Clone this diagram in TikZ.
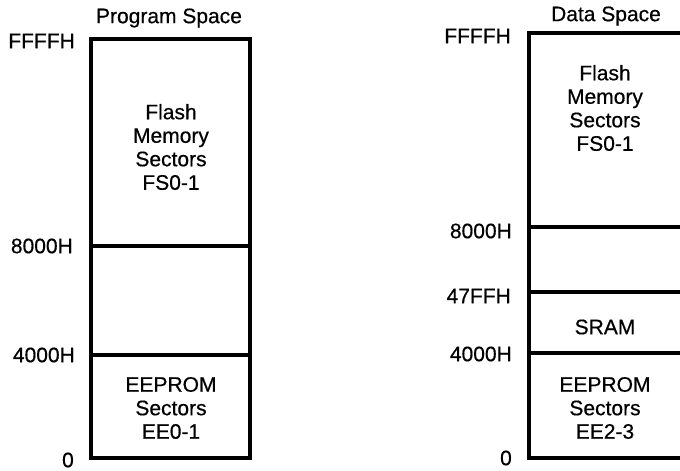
\documentclass[tikz,border=0pt]{standalone}
\usepackage{fontspec}
\setmainfont{Liberation Sans}[UprightFeatures={FakeBold=0.5}]
\newcommand{\lblfont}{\fontsize{21}{23.5}\selectfont}
\begin{document}
\begin{tikzpicture}[x=1pt,y=-1pt,
  wall/.style={line width=3.2pt,line cap=rect},
  addr/.style={anchor=east,inner sep=0pt,font=\lblfont},
  txt/.style={align=center,inner sep=0pt,font=\lblfont},
  ttl/.style={inner sep=0pt,font=\lblfont}]
\useasboundingbox (0,0) rectangle (680,471);
% left memory map
\coordinate (LTL) at (91,39);
\coordinate (LTR) at (250,39);
\coordinate (LBL) at (91,458);
\coordinate (LBR) at (250,458);
\draw[wall] (LTL) -- (LTR) -- (LBR) -- (LBL) -- cycle;
\coordinate (L8a) at (91,246); \coordinate (L8b) at (250,246);
\coordinate (L4a) at (91,355); \coordinate (L4b) at (250,355);
\draw[wall] (L8a) -- (L8b);
\draw[wall] (L4a) -- (L4b);
\node[ttl] (ps) at (169,18) {Program Space};
\node[addr] (lF) at (75,41) {FFFFH};
\node[addr] (l8) at (73,246) {8000H};
\node[addr] (l4) at (75,355) {4000H};
\node[addr] (l0) at (74,460) {0};
\node[txt] (lflash) at (171,147) {Flash\\Memory\\Sectors\\FS0-1};
\node[txt] (leep) at (171,408) {EEPROM\\Sectors\\EE0-1};
% right memory map
\coordinate (RTL) at (529,33);
\coordinate (RTR) at (682,33);
\coordinate (RBL) at (529,458);
\coordinate (RBR) at (682,458);
\draw[wall] (RTR) -- (RTL) -- (RBL) -- (RBR);
\coordinate (R8a) at (529,227); \coordinate (R8b) at (682,227);
\coordinate (R47a) at (529,292); \coordinate (R47b) at (682,292);
\coordinate (R4a) at (529,353); \coordinate (R4b) at (682,353);
\draw[wall] (R8a) -- (R8b);
\draw[wall] (R47a) -- (R47b);
\draw[wall] (R4a) -- (R4b);
\node[ttl] (ds) at (606,16) {Data Space};
\node[addr] (rF) at (511,36) {FFFFH};
\node[addr] (r8) at (512,231) {8000H};
\node[addr] (r47) at (511,296) {47FFH};
\node[addr] (r4) at (512,354) {4000H};
\node[addr] (r0) at (512,458) {0};
\node[txt] (rflash) at (605,108) {Flash\\Memory\\Sectors\\FS0-1};
\node[txt] (rsram) at (605,327) {SRAM};
\node[txt] (reep) at (605,408) {EEPROM\\Sectors\\EE2-3};
\end{tikzpicture}
\end{document}
